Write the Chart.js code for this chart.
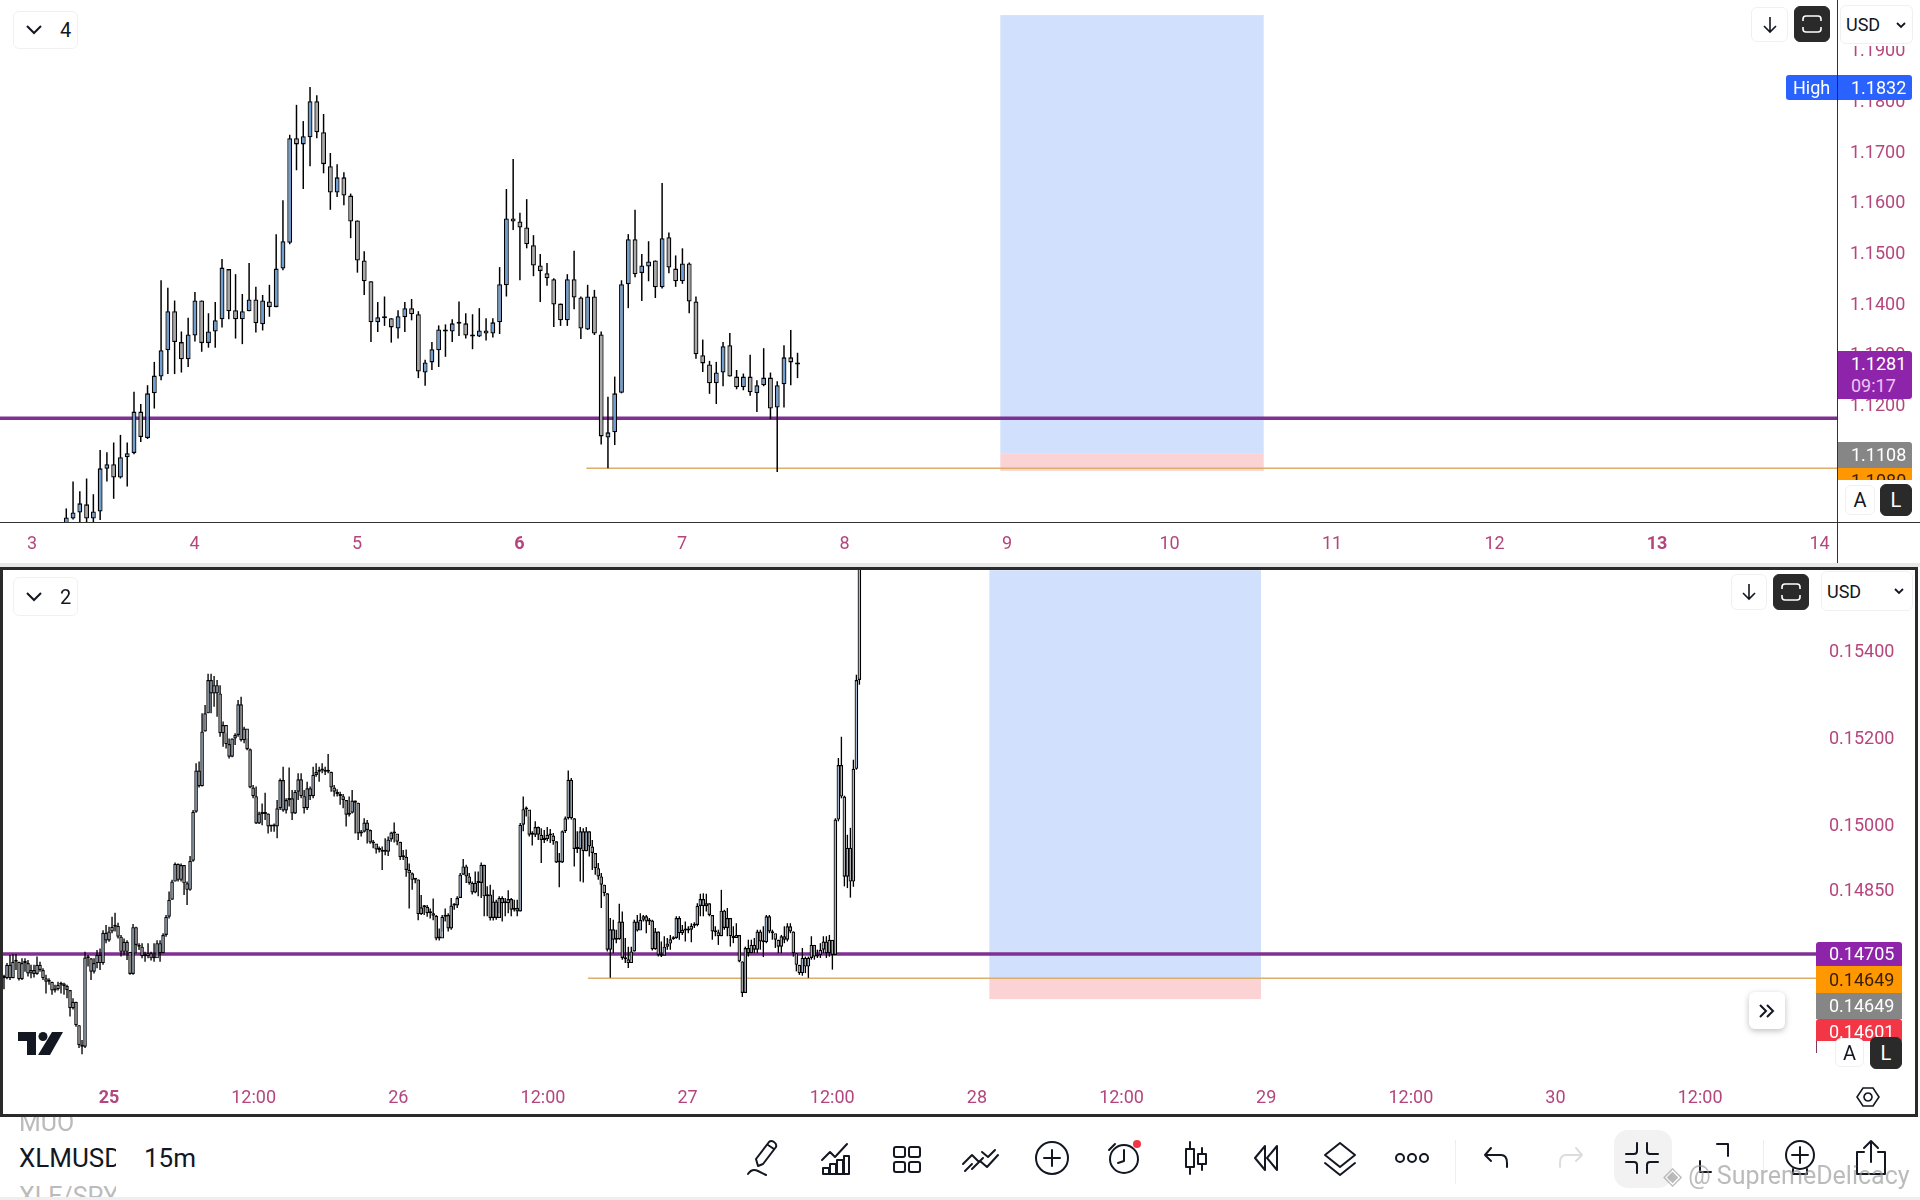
<!DOCTYPE html>
<html>
<head>
<meta charset="utf-8">
<title>XLMUSD 15m</title>
<script src="https://cdn.jsdelivr.net/npm/chart.js@4"></script>
<style>
html, body { margin: 0; padding: 0; background: #fff; }
body { width: 1920px; height: 1200px; position: relative; overflow: hidden; font-family: Roboto, sans-serif; color: #131722; }
canvas { position: absolute; display: block; }
.abs { position: absolute; box-sizing: border-box; }
.btn { position: absolute; box-sizing: border-box; background: #fff; border: 1px solid #f0f0f0; border-radius: 6px; display: flex; align-items: center; justify-content: center; font-size: 20px; }
.btn.dark { background: #2a2a2a; border-color: #2a2a2a; color: #fff; }
.tag { position: absolute; box-sizing: border-box; color: #fff; font-size: 18px; line-height: 26px; overflow: hidden; white-space: nowrap; }
.ico { position: absolute; top: 1138px; width: 40px; height: 40px; fill: none; stroke: #131722; stroke-width: 2; stroke-linecap: round; stroke-linejoin: round; }
</style>
</head>
<body>
<canvas id="topChart" width="1920" height="566" style="left:0;top:0"></canvas>
<canvas id="botChart" width="1914" height="543" style="left:3px;top:570px"></canvas>

<div class="abs" style="left:0;top:522px;width:1920px;height:1px;background:#333"></div>
<div class="abs" style="left:1837px;top:0;width:1px;height:563px;background:#333"></div>
<div class="abs" style="left:0;top:563px;width:1920px;height:4px;background:#e8e8e8"></div>
<div class="abs" style="left:0;top:567px;width:1918px;height:550px;border:3px solid #2a2a2a"></div>

<!-- panneau du haut -->
<div class="btn" style="left:13px;top:11px;width:65px;height:38px"><svg width="20" height="12" viewBox="0 0 20 12" style="margin-right:16px;margin-left:4px"><path d="M3 2l7 7 7-7" fill="none" stroke="#131722" stroke-width="2"/></svg>4</div>
<div class="btn" style="left:1751px;top:7px;width:37px;height:35px"><svg width="18" height="20" viewBox="0 0 18 20"><path d="M9 2v15M3 11l6 6 6-6" fill="none" stroke="#131722" stroke-width="1.6"/></svg></div>
<div class="btn dark" style="left:1794px;top:6px;width:36px;height:36px"><svg width="22" height="20" viewBox="0 0 22 20"><path d="M2 7V5q0-3 3-3h12q3 0 3 3v2M2 13v2q0 3 3 3h12q3 0 3-3v-2" fill="none" stroke="#fff" stroke-width="1.6"/></svg></div>
<div class="abs" style="left:1838px;top:0;width:82px;height:46px;background:#fff"></div>
<div class="btn" style="left:1840px;top:5px;width:73px;height:39px;justify-content:flex-start;padding-left:5px;font-size:18px">USD<svg width="10" height="8" viewBox="0 0 10 8" style="margin-left:16px"><path d="M1 2l4 4 4-4" fill="none" stroke="#131722" stroke-width="1.8"/></svg></div>
<div class="tag" style="left:1786px;top:75px;width:126px;height:25px;background:#2962ff;border-radius:3px;line-height:25px;padding-left:7px">High<span style="position:absolute;left:65px">1.1832</span></div>
<div class="abs" style="left:1837px;top:75px;width:1px;height:25px;background:#1c2b55"></div>
<div class="tag" style="left:1838px;top:351px;width:74px;height:48px;background:#8e24aa;border-radius:0 3px 3px 0;padding:2px 0 0 13px;line-height:22px">1.1281<br><span style="color:#f0c4f5">09:17</span></div>
<div class="tag" style="left:1838px;top:442px;width:74px;height:26px;background:#868686;border-radius:0 3px 0 0;padding-left:13px;line-height:26px">1.1108</div>
<div class="tag" style="left:1838px;top:468px;width:74px;height:12px;background:#ff9800;color:#3c2000;padding-left:13px;line-height:26px">1.1080</div>
<div class="btn" style="left:1845px;top:485px;width:30px;height:30px">A</div>
<div class="btn dark" style="left:1880px;top:484px;width:32px;height:32px">L</div>

<!-- panneau du bas -->
<div class="btn" style="left:13px;top:577px;width:65px;height:39px"><svg width="20" height="12" viewBox="0 0 20 12" style="margin-right:16px;margin-left:4px"><path d="M3 2l7 7 7-7" fill="none" stroke="#131722" stroke-width="2"/></svg>2</div>
<div class="btn" style="left:1731px;top:574px;width:36px;height:36px"><svg width="18" height="20" viewBox="0 0 18 20"><path d="M9 2v15M3 11l6 6 6-6" fill="none" stroke="#131722" stroke-width="1.6"/></svg></div>
<div class="btn dark" style="left:1773px;top:574px;width:36px;height:36px"><svg width="22" height="20" viewBox="0 0 22 20"><path d="M2 7V5q0-3 3-3h12q3 0 3 3v2M2 13v2q0 3 3 3h12q3 0 3-3v-2" fill="none" stroke="#fff" stroke-width="1.6"/></svg></div>
<div class="btn" style="left:1821px;top:571px;width:92px;height:40px;justify-content:flex-start;padding-left:5px;font-size:18px">USD<svg width="10" height="8" viewBox="0 0 10 8" style="margin-left:33px"><path d="M1 2l4 4 4-4" fill="none" stroke="#131722" stroke-width="1.8"/></svg></div>
<div class="tag" style="left:1816px;top:942px;width:86px;height:24px;background:#8e24aa;border-radius:3px 3px 0 0;padding-left:13px;line-height:24px">0.14705</div>
<div class="tag" style="left:1816px;top:966px;width:86px;height:27px;background:#ff9800;color:#3c2000;padding-left:13px;line-height:27px">0.14649</div>
<div class="tag" style="left:1816px;top:993px;width:86px;height:26px;background:#868686;padding-left:13px;line-height:26px">0.14649</div>
<div class="tag" style="left:1816px;top:1019px;width:86px;height:22px;background:#f23645;border-radius:3px 3px 0 0;padding-left:13px;line-height:26px">0.14601</div>
<div class="abs" style="left:1816px;top:1041px;width:1px;height:12px;background:#7d3a5e"></div>
<div class="btn" style="left:1749px;top:992px;width:36px;height:37px;border:none;box-shadow:0 2px 6px rgba(0,0,0,.25)"><svg width="18" height="16" viewBox="0 0 18 16"><path d="M2 2l6 6-6 6M9 2l6 6-6 6" fill="none" stroke="#131722" stroke-width="2"/></svg></div>
<div class="btn" style="left:1835px;top:1038px;width:29px;height:29px">A</div>
<div class="btn dark" style="left:1870px;top:1037px;width:32px;height:32px">L</div>
<svg class="abs" style="left:1856px;top:1085px" width="24" height="24" viewBox="0 0 24 24"><path d="M7 3h10l6 9-6 9H7L1 12z M12 8a4 4 0 1 0 .01 0z" fill="none" stroke="#131722" stroke-width="1.6"/></svg>
<svg class="abs" style="left:18px;top:1032px" width="46" height="24" viewBox="0 0 46 24"><path d="M0 0h18v23H9V9H0z" fill="#131722"/><circle cx="25" cy="4.5" r="4.5" fill="#131722"/><path d="M34 0h11L32 23H20z" fill="#131722"/></svg>

<!-- barre du bas -->
<div class="abs" style="left:0;top:1117px;width:1920px;height:14px;overflow:hidden;color:#bbb;font-size:25px;line-height:14px;padding-left:19px;"><span style="position:relative;top:-1px">MUO</span></div>
<div class="abs" style="left:19px;top:1143px;width:97px;overflow:hidden;font-size:26px;line-height:31px;white-space:nowrap">XLMUSD</div>
<div class="abs" style="left:144px;top:1143px;font-size:26px;line-height:31px">15m</div>
<div class="abs" style="left:19px;top:1182px;width:97px;height:15px;overflow:hidden;color:#bbb;font-size:25px;line-height:30px;white-space:nowrap">XLE/SPY</div>
<div class="abs" style="left:0;top:1197px;width:1920px;height:3px;background:#eee"></div>
<div class="abs" style="left:1614px;top:1130px;width:58px;height:58px;background:#f2f2f2;border-radius:14px"></div>
<div class="abs" style="left:1455px;top:1140px;width:1px;height:44px;background:#eee"></div>
<div class="abs" style="left:1763px;top:1140px;width:1px;height:44px;background:#eee"></div>

<svg class="ico" style="left:744px" viewBox="0 0 40 40"><path d="M14 28l-2-7 13-17q2-2 5 0t2 5L19 26zM24 7l6 4M4 36q4-6 10-3t8 4"/></svg>
<svg class="ico" style="left:816px" viewBox="0 0 40 40"><path d="M6 22l8-8 5 5 12-13M7 36v-6h6v6zM14 36V26h6v10zM21 36V22h6v14zM28 36V18h5v18z"/></svg>
<svg class="ico" style="left:887px" viewBox="0 0 40 40"><rect x="7" y="9" width="11" height="10" rx="2"/><rect x="22" y="9" width="11" height="10" rx="2"/><rect x="7" y="24" width="11" height="10" rx="2"/><rect x="22" y="24" width="11" height="10" rx="2"/></svg>
<svg class="ico" style="left:960px" viewBox="0 0 40 40"><path d="M3 26l9-9 7 7 4-4M12 31l8-8 7 6 11-12M22 14l6 5 7-7M5 33l7-7"/></svg>
<svg class="ico" style="left:1032px" viewBox="0 0 40 40"><circle cx="20" cy="20" r="16"/><path d="M20 12v16M12 20h16"/></svg>
<svg class="ico" style="left:1104px" viewBox="0 0 40 40"><circle cx="20" cy="21" r="14"/><path d="M20 12v11l-6 2M5 12l6-6"/><circle cx="33" cy="6" r="4" fill="#f23645" stroke="none"/></svg>
<svg class="ico" style="left:1176px" viewBox="0 0 40 40"><path d="M14 4v32M26 10v22"/><rect x="10" y="11" width="8" height="18" fill="#fff"/><rect x="22" y="16" width="8" height="10" fill="#fff"/></svg>
<svg class="ico" style="left:1247px" viewBox="0 0 40 40"><path d="M18 8L8 20l10 12zM30 8L20 20l10 12z"/></svg>
<svg class="ico" style="left:1320px" viewBox="0 0 40 40"><path d="M20 5l15 12-15 12L5 17zM5 25l15 12 15-12"/></svg>
<svg class="ico" style="left:1392px" viewBox="0 0 40 40"><circle cx="8" cy="20" r="4"/><circle cx="20" cy="20" r="4"/><circle cx="32" cy="20" r="4"/></svg>
<svg class="ico" style="left:1477px" viewBox="0 0 40 40"><path d="M14 10l-6 7 6 6M8 17h16q6 0 6 8v4"/></svg>
<svg class="ico" style="left:1550px;stroke:#ddd" viewBox="0 0 40 40"><path d="M26 10l6 7-6 6M32 17H16q-6 0-6 8v4"/></svg>
<svg class="ico" style="left:1622px" viewBox="0 0 40 40"><path d="M15 5v8q0 3-3 3H4M25 5v8q0 3 3 3h8M15 35v-8q0-3-3-3H4M25 35v-8q0-3 3-3h8"/></svg>
<svg class="ico" style="left:1694px" viewBox="0 0 40 40"><path d="M23 6h11v12M6 23v11h11"/></svg>
<svg class="ico" style="left:1780px" viewBox="0 0 40 40"><circle cx="20" cy="17" r="14"/><path d="M20 9v16M12 17h16M13 31v5h14v-5"/></svg>
<svg class="ico" style="left:1851px" viewBox="0 0 40 40"><path d="M13 14H6v22h28V14h-7M20 24V3M13 10l7-7 7 7"/></svg>
<div class="abs" style="left:1663px;top:1160px;font-size:25px;line-height:32px;color:rgba(150,150,150,.65);white-space:nowrap">◈ @ SupremeDelicacy</div>

<script>
// ─── DATOS PANEL SUPERIOR (velas 1h) ──────────────────────────
const topDayTicks = [3, 4, 5, 6, 7, 8, 9, 10, 11, 12, 13, 14];
const topBoldDays = [6, 13];
const topPriceTicks = [1.19, 1.18, 1.17, 1.16, 1.15, 1.14, 1.13, 1.12];
const topFirstCandleDay = 3.211;

const topOpen = [
    1.0966,1.0979,1.0991,1.1007,1.0979,1.0993,1.1077,1.1086,1.1060,1.1100,
    1.1108,1.1190,1.1138,1.1226,1.1259,1.1311,1.1388,1.1327,1.1293,1.1340,
    1.1409,1.1325,1.1348,1.1372,1.1471,1.1390,1.1372,1.1388,1.1411,1.1362,
    1.1407,1.1396,1.1472,1.1523,1.1729,1.1717,1.1731,1.1802,1.1741,1.1674,
    1.1622,1.1652,1.1616,1.1567,1.1488,1.1447,1.1366,1.1376,1.1374,1.1354,
    1.1376,1.1394,1.1382,1.1267,1.1287,1.1311,1.1350,1.1348,1.1364,1.1364,
    1.1340,1.1338,1.1350,1.1344,1.1366,1.1439,1.1571,1.1565,1.1553,1.1518,
    1.1478,1.1463,1.1451,1.1403,1.1370,1.1451,1.1415,1.1352,1.1417,1.1342,
    1.1139,1.1149,1.1227,1.1441,1.1530,1.1463,1.1476,1.1488,1.1435,1.1534,
    1.1472,1.1447,1.1482,1.1407,1.1301,1.1283,1.1246,1.1267,1.1321,1.1259,
    1.1238,1.1259,1.1226,1.1242,1.1257,1.1198,1.1244,1.1297,1.1287
];
const topClose = [
    1.0981,1.0991,1.1009,1.0979,1.0993,1.1078,1.1086,1.1060,1.1100,1.1108,
    1.1190,1.1140,1.1226,1.1261,1.1311,1.1388,1.1327,1.1293,1.1342,1.1409,
    1.1325,1.1348,1.1370,1.1474,1.1388,1.1372,1.1388,1.1411,1.1364,1.1409,
    1.1396,1.1472,1.1526,1.1729,1.1717,1.1733,1.1802,1.1741,1.1678,1.1622,
    1.1652,1.1616,1.1565,1.1488,1.1447,1.1366,1.1376,1.1374,1.1356,1.1378,
    1.1394,1.1382,1.1269,1.1287,1.1313,1.1352,1.1348,1.1364,1.1363,1.1340,
    1.1338,1.1350,1.1344,1.1366,1.1441,1.1571,1.1565,1.1553,1.1520,1.1478,
    1.1467,1.1453,1.1401,1.1370,1.1451,1.1415,1.1354,1.1417,1.1344,1.1141,
    1.1149,1.1226,1.1441,1.1530,1.1461,1.1478,1.1486,1.1435,1.1532,1.1474,
    1.1447,1.1482,1.1407,1.1303,1.1285,1.1246,1.1267,1.1319,1.1259,1.1238,
    1.1259,1.1228,1.1242,1.1257,1.1196,1.1242,1.1297,1.1287,1.1283
];
const topHigh = [
    1.0999,1.1052,1.1033,1.1058,1.1027,1.1114,1.1110,1.1129,1.1144,1.1129,
    1.1229,1.1205,1.1242,1.1288,1.1449,1.1434,1.1409,1.1348,1.1375,1.1426,
    1.1409,1.1384,1.1406,1.1491,1.1471,1.1461,1.1422,1.1483,1.1436,1.1420,
    1.1440,1.1540,1.1607,1.1736,1.1795,1.1763,1.1830,1.1814,1.1777,1.1700,
    1.1678,1.1662,1.1620,1.1567,1.1506,1.1447,1.1406,1.1417,1.1374,1.1390,
    1.1406,1.1412,1.1388,1.1292,1.1327,1.1360,1.1362,1.1372,1.1407,1.1384,
    1.1382,1.1394,1.1374,1.1374,1.1475,1.1629,1.1688,1.1582,1.1609,1.1538,
    1.1501,1.1483,1.1453,1.1403,1.1461,1.1507,1.1417,1.1440,1.1430,1.1348,
    1.1219,1.1259,1.1449,1.1540,1.1588,1.1501,1.1526,1.1488,1.1641,1.1543,
    1.1498,1.1512,1.1484,1.1417,1.1332,1.1290,1.1288,1.1327,1.1345,1.1272,
    1.1265,1.1302,1.1252,1.1315,1.1267,1.1250,1.1321,1.1351,1.1306
];
const topLow = [
    1.0963,1.0977,1.0969,1.0969,1.0969,1.0976,1.1052,1.1018,1.1058,1.1042,
    1.1106,1.1130,1.1136,1.1196,1.1252,1.1264,1.1264,1.1267,1.1278,1.1328,
    1.1308,1.1316,1.1316,1.1356,1.1372,1.1334,1.1323,1.1388,1.1346,1.1350,
    1.1377,1.1396,1.1469,1.1520,1.1666,1.1629,1.1674,1.1729,1.1660,1.1588,
    1.1613,1.1597,1.1532,1.1464,1.1420,1.1327,1.1347,1.1359,1.1326,1.1334,
    1.1347,1.1370,1.1256,1.1241,1.1272,1.1278,1.1298,1.1327,1.1339,1.1334,
    1.1313,1.1337,1.1330,1.1336,1.1343,1.1417,1.1548,1.1449,1.1512,1.1457,
    1.1406,1.1438,1.1357,1.1359,1.1359,1.1392,1.1333,1.1351,1.1341,1.1125,
    1.1078,1.1124,1.1226,1.1394,1.1455,1.1408,1.1447,1.1414,1.1433,1.1463,
    1.1436,1.1442,1.1384,1.1294,1.1268,1.1225,1.1205,1.1240,1.1259,1.1234,
    1.1232,1.1221,1.1189,1.1240,1.1175,1.1071,1.1198,1.1242,1.1256
];
const topPurpleLine = 1.1177;
const topGoldLine = 1.1078;
const topGoldStartDay = 6.412;
const topZoneDays = [8.959, 10.58];
const topZonePrices = [1.1972, 1.1108, 1.1073];

// ─── DATOS PANEL INFERIOR (velas 15m) ─────────────────────────
const botDayTicks = [25, 25.5, 26, 26.5, 27, 27.5, 28, 28.5, 29, 29.5, 30, 30.5];
const botBoldDays = [25];
const botPriceTicks = [0.154, 0.152, 0.15, 0.1485];
const botFirstCandleDay = 24.637;
const botFirstOpen = 0.14655;

const botClose = [
    0.14649,0.14680,0.14649,0.14687,0.14687,0.14647,0.14684,0.14684,0.14660,0.14668,
    0.14659,0.14680,0.14668,0.14649,0.14641,0.14641,0.14621,0.14624,0.14634,0.14637,
    0.14631,0.14622,0.14580,0.14595,0.14541,0.14495,0.14491,0.14697,0.14695,0.14664,
    0.14684,0.14703,0.14684,0.14754,0.14736,0.14757,0.14768,0.14770,0.14745,0.14710,
    0.14733,0.14710,0.14659,0.14767,0.14726,0.14722,0.14700,0.14700,0.14707,0.14695,
    0.14695,0.14730,0.14707,0.14749,0.14791,0.14830,0.14872,0.14913,0.14876,0.14910,
    0.14868,0.14853,0.14920,0.15033,0.15128,0.15092,0.15218,0.15260,0.15337,0.15306,
    0.15325,0.15306,0.15214,0.15233,0.15189,0.15160,0.15202,0.15210,0.15281,0.15198,
    0.15225,0.15177,0.15089,0.15069,0.15006,0.15029,0.15028,0.15029,0.14999,0.14999,
    0.14999,0.15041,0.15106,0.15036,0.15060,0.15064,0.15029,0.15079,0.15108,0.15069,
    0.15041,0.15087,0.15069,0.15118,0.15125,0.15129,0.15128,0.15125,0.15125,0.15089,
    0.15079,0.15074,0.15069,0.15060,0.15026,0.15031,0.15059,0.15054,0.14983,0.14987,
    0.15008,0.14991,0.14962,0.14960,0.14946,0.14945,0.14941,0.14941,0.14969,0.14985,
    0.14983,0.14964,0.14928,0.14929,0.14899,0.14891,0.14876,0.14877,0.14797,0.14813,
    0.14814,0.14799,0.14799,0.14793,0.14741,0.14741,0.14791,0.14795,0.14764,0.14817,
    0.14817,0.14834,0.14888,0.14907,0.14884,0.14869,0.14847,0.14869,0.14869,0.14911,
    0.14838,0.14842,0.14788,0.14826,0.14788,0.14834,0.14822,0.14822,0.14832,0.14807,
    0.14811,0.14803,0.15003,0.15039,0.15038,0.14980,0.14980,0.14998,0.14980,0.14968,
    0.14970,0.14980,0.14978,0.14965,0.14916,0.14916,0.14988,0.15018,0.15107,0.15018,
    0.14947,0.14947,0.14988,0.14942,0.14988,0.14953,0.14938,0.14903,0.14884,0.14865,
    0.14845,0.14715,0.14762,0.14738,0.14739,0.14780,0.14696,0.14693,0.14684,0.14711,
    0.14780,0.14759,0.14784,0.14792,0.14780,0.14782,0.14716,0.14757,0.14703,0.14701,
    0.14722,0.14729,0.14739,0.14742,0.14788,0.14753,0.14761,0.14759,0.14761,0.14770,
    0.14772,0.14816,0.14832,0.14815,0.14822,0.14795,0.14757,0.14755,0.14746,0.14805,
    0.14765,0.14788,0.14746,0.14742,0.14749,0.14688,0.14615,0.14719,0.14707,0.14726,
    0.14715,0.14757,0.14734,0.14732,0.14792,0.14757,0.14753,0.14738,0.14722,0.14746,
    0.14738,0.14769,0.14757,0.14707,0.14680,0.14661,0.14696,0.14676,0.14696,0.14726,
    0.14699,0.14703,0.14715,0.14734,0.14707,0.14738,0.14703,0.15015,0.15141,0.15068,
    0.14883,0.14950,0.14872,0.15132,0.15337,0.15596
];
const botHigh = [
    0.14657,0.14684,0.14703,0.14705,0.14705,0.14687,0.14695,0.14695,0.14691,0.14680,
    0.14680,0.14699,0.14687,0.14672,0.14657,0.14649,0.14641,0.14634,0.14641,0.14641,
    0.14639,0.14634,0.14622,0.14603,0.14595,0.14541,0.14507,0.14710,0.14703,0.14695,
    0.14695,0.14714,0.14718,0.14760,0.14772,0.14768,0.14791,0.14800,0.14777,0.14749,
    0.14741,0.14737,0.14703,0.14774,0.14768,0.14730,0.14730,0.14710,0.14730,0.14710,
    0.14730,0.14737,0.14737,0.14753,0.14795,0.14849,0.14876,0.14916,0.14914,0.14914,
    0.14910,0.14872,0.14931,0.15037,0.15145,0.15149,0.15260,0.15279,0.15351,0.15351,
    0.15346,0.15337,0.15325,0.15241,0.15214,0.15202,0.15202,0.15214,0.15291,0.15298,
    0.15229,0.15202,0.15179,0.15095,0.15091,0.15033,0.15052,0.15077,0.15029,0.15002,
    0.15006,0.15060,0.15110,0.15137,0.15064,0.15135,0.15083,0.15083,0.15122,0.15122,
    0.15083,0.15102,0.15091,0.15137,0.15145,0.15137,0.15145,0.15137,0.15166,0.15125,
    0.15095,0.15085,0.15079,0.15074,0.15060,0.15068,0.15083,0.15059,0.15054,0.14991,
    0.15018,0.15014,0.14992,0.14968,0.14956,0.14953,0.14953,0.14972,0.14976,0.14987,
    0.15008,0.14979,0.14964,0.14945,0.14946,0.14914,0.14893,0.14880,0.14877,0.14841,
    0.14818,0.14818,0.14810,0.14833,0.14795,0.14764,0.14795,0.14810,0.14799,0.14834,
    0.14822,0.14838,0.14892,0.14924,0.14911,0.14892,0.14872,0.14895,0.14895,0.14916,
    0.14911,0.14861,0.14865,0.14853,0.14830,0.14838,0.14838,0.14834,0.14852,0.14834,
    0.14830,0.14830,0.15007,0.15068,0.15045,0.15022,0.14988,0.15011,0.14999,0.14995,
    0.14991,0.14998,0.14993,0.14984,0.14965,0.14938,0.14990,0.15022,0.15128,0.15111,
    0.15018,0.14988,0.14998,0.14995,0.14998,0.14988,0.14968,0.14938,0.14915,0.14892,
    0.14865,0.14845,0.14788,0.14784,0.14761,0.14821,0.14803,0.14742,0.14722,0.14722,
    0.14784,0.14795,0.14799,0.14795,0.14795,0.14788,0.14784,0.14765,0.14757,0.14734,
    0.14746,0.14742,0.14749,0.14746,0.14792,0.14792,0.14772,0.14780,0.14769,0.14776,
    0.14778,0.14822,0.14844,0.14845,0.14844,0.14822,0.14795,0.14769,0.14761,0.14853,
    0.14807,0.14811,0.14788,0.14769,0.14776,0.14749,0.14688,0.14722,0.14738,0.14738,
    0.14742,0.14761,0.14761,0.14769,0.14795,0.14795,0.14761,0.14746,0.14738,0.14749,
    0.14769,0.14776,0.14776,0.14757,0.14707,0.14680,0.14719,0.14699,0.14699,0.14746,
    0.14726,0.14715,0.14730,0.14746,0.14746,0.14749,0.14715,0.15018,0.15157,0.15206,
    0.15070,0.14980,0.14996,0.15153,0.15349,0.15660
];
const botLow = [
    0.14624,0.14647,0.14645,0.14649,0.14668,0.14644,0.14645,0.14664,0.14653,0.14649,
    0.14651,0.14657,0.14664,0.14645,0.14614,0.14634,0.14611,0.14616,0.14621,0.14614,
    0.14611,0.14603,0.14561,0.14577,0.14537,0.14488,0.14474,0.14488,0.14676,0.14645,
    0.14660,0.14672,0.14668,0.14680,0.14730,0.14733,0.14753,0.14757,0.14741,0.14699,
    0.14703,0.14691,0.14657,0.14657,0.14707,0.14714,0.14695,0.14687,0.14695,0.14690,
    0.14687,0.14703,0.14687,0.14707,0.14745,0.14787,0.14830,0.14872,0.14872,0.14872,
    0.14841,0.14818,0.14851,0.14918,0.15031,0.15089,0.15091,0.15218,0.15260,0.15260,
    0.15275,0.15252,0.15206,0.15183,0.15179,0.15156,0.15159,0.15187,0.15206,0.15195,
    0.15191,0.15175,0.15087,0.15064,0.15005,0.15005,0.15002,0.15014,0.14983,0.14987,
    0.14987,0.14972,0.15037,0.15033,0.15029,0.15045,0.15014,0.15028,0.15060,0.15064,
    0.15029,0.15037,0.15060,0.15064,0.15114,0.15102,0.15122,0.15118,0.15122,0.15079,
    0.15068,0.15068,0.15049,0.15041,0.14999,0.15022,0.15029,0.14983,0.14968,0.14976,
    0.14985,0.14960,0.14959,0.14949,0.14937,0.14939,0.14899,0.14933,0.14931,0.14964,
    0.14962,0.14956,0.14922,0.14922,0.14883,0.14810,0.14853,0.14868,0.14783,0.14795,
    0.14795,0.14791,0.14787,0.14783,0.14737,0.14736,0.14757,0.14780,0.14757,0.14761,
    0.14807,0.14811,0.14834,0.14888,0.14869,0.14865,0.14842,0.14845,0.14838,0.14834,
    0.14792,0.14792,0.14782,0.14782,0.14784,0.14799,0.14780,0.14792,0.14799,0.14792,
    0.14803,0.14792,0.14803,0.14988,0.15022,0.14976,0.14955,0.14975,0.14968,0.14915,
    0.14961,0.14965,0.14961,0.14957,0.14915,0.14859,0.14915,0.14984,0.15015,0.15015,
    0.14907,0.14938,0.14872,0.14870,0.14942,0.14930,0.14899,0.14888,0.14876,0.14811,
    0.14838,0.14711,0.14650,0.14707,0.14730,0.14738,0.14692,0.14684,0.14673,0.14692,
    0.14711,0.14757,0.14761,0.14780,0.14753,0.14772,0.14713,0.14715,0.14699,0.14698,
    0.14707,0.14715,0.14715,0.14738,0.14740,0.14738,0.14749,0.14734,0.14753,0.14732,
    0.14765,0.14769,0.14792,0.14792,0.14803,0.14792,0.14738,0.14746,0.14726,0.14746,
    0.14761,0.14746,0.14722,0.14730,0.14746,0.14686,0.14606,0.14615,0.14699,0.14707,
    0.14707,0.14707,0.14715,0.14698,0.14730,0.14753,0.14738,0.14719,0.14707,0.14707,
    0.14730,0.14734,0.14753,0.14699,0.14665,0.14657,0.14655,0.14661,0.14650,0.14692,
    0.14692,0.14696,0.14696,0.14707,0.14696,0.14699,0.14669,0.14703,0.15011,0.15064,
    0.14861,0.14857,0.14835,0.14860,0.15130,0.15326
];
const botOpen = botClose.map((c, i) => i ? botClose[i - 1] : botFirstOpen);
const botPurpleLine = 0.14705;
const botGoldLine = 0.14649;
const botGoldStartDay = 26.656;
const botZoneDays = [28.043, 28.982];
const botZonePrices = [0.1559, 0.14649, 0.14601];

// ─── HELPERS ───────────────────────────────────────────────────
const TICK_COLOR = '#b5467d';

function zonePlugin(days, prices) {
    return {
        id: 'zone',
        beforeDatasetsDraw(chart) {
            const { ctx, scales: { x, y } } = chart;
            const x0 = x.getPixelForValue(days[0]);
            const x1 = x.getPixelForValue(days[1]);
            const yTop = y.getPixelForValue(prices[0]);
            const yMid = y.getPixelForValue(prices[1]);
            const yBot = y.getPixelForValue(prices[2]);
            ctx.save();
            ctx.fillStyle = '#d1e0fc';
            ctx.fillRect(x0, yTop, x1 - x0, yMid - yTop);
            ctx.fillStyle = '#fbd3d4';
            ctx.fillRect(x0, yMid, x1 - x0, yBot - yMid);
            ctx.restore();
        }
    };
}

// sin los márgenes automáticos de Chart.js el área del gráfico llega al borde del canvas
function noPadding(s) {
    s.paddingTop = 0;
    s.paddingBottom = 0;
    s.paddingLeft = 0;
    s.paddingRight = 0;
}

function makePane(id, cfg) {
    const times = cfg.open.map((_, i) => cfg.firstDay + i * cfg.step);
    const wicks = times.map((t, i) => ({ x: t, y: [cfg.low[i], cfg.high[i]] }));
    const bodies = times.map((t, i) => ({ x: t, y: [Math.min(cfg.open[i], cfg.close[i]), Math.max(cfg.open[i], cfg.close[i])] }));

    new Chart(document.getElementById(id), {
        type: 'bar',
        data: {
            datasets: [
                {
                    data: bodies,
                    order: 1,
                    grouped: false,
                    categoryPercentage: 1,
                    barPercentage: cfg.bodyRatio,
                    backgroundColor: ctx => cfg.close[ctx.dataIndex] >= cfg.open[ctx.dataIndex] ? cfg.upColor : cfg.downColor,
                    borderColor: '#000',
                    borderWidth: cfg.bodyBorder,
                    borderSkipped: false,
                    minBarLength: 2
                },
                {
                    data: wicks,
                    order: 2,
                    grouped: false,
                    categoryPercentage: 1,
                    barPercentage: cfg.wickRatio,
                    backgroundColor: '#000',
                    borderWidth: 0
                },
                {
                    type: 'line',
                    data: [{ x: cfg.xMin, y: cfg.purple }, { x: cfg.xMax, y: cfg.purple }],
                    order: 3,
                    borderColor: '#7f3191',
                    borderWidth: 3.5,
                    pointRadius: 0
                },
                {
                    type: 'line',
                    data: [{ x: cfg.goldStart, y: cfg.gold }, { x: cfg.xMax, y: cfg.gold }],
                    order: 4,
                    borderColor: '#dcae6a',
                    borderWidth: 1.5,
                    pointRadius: 0
                }
            ]
        },
        plugins: [zonePlugin(cfg.zoneDays, cfg.zonePrices)],
        options: {
            responsive: false,
            animation: false,
            devicePixelRatio: 1,
            layout: { padding: 0, autoPadding: false },
            plugins: { legend: { display: false }, tooltip: { enabled: false } },
            scales: {
                x: {
                    type: 'linear',
                    offset: false,
                    min: cfg.xMin,
                    max: cfg.xMax,
                    grid: { display: false, drawTicks: false },
                    border: { display: false },
                    afterBuildTicks: s => { s.ticks = cfg.xTicks.map(v => ({ value: v })); },
                    afterFit: s => { s.height = cfg.xAxisHeight; noPadding(s); },
                    ticks: {
                        autoSkip: false,
                        maxRotation: 0,
                        padding: cfg.xPadding,
                        color: TICK_COLOR,
                        font: ctx => ({ family: 'Roboto', size: 18, weight: cfg.boldDays.includes(ctx.tick && ctx.tick.value) ? '700' : '400' }),
                        callback: v => Number.isInteger(v) ? String(v) : '12:00'
                    }
                },
                y: {
                    position: 'right',
                    min: cfg.yMin,
                    max: cfg.yMax,
                    grid: { display: false, drawTicks: false },
                    border: { display: false },
                    afterBuildTicks: s => { s.ticks = cfg.yTicks.map(v => ({ value: v })); },
                    afterFit: s => { s.width = cfg.yAxisWidth; noPadding(s); },
                    ticks: {
                        padding: 13,
                        color: TICK_COLOR,
                        font: { family: 'Roboto', size: 18 },
                        callback: v => v.toFixed(cfg.decimals)
                    }
                }
            }
        }
    });
}

// ─── INIT ──────────────────────────────────────────────────────
makePane('topChart', {
    open: topOpen, close: topClose, high: topHigh, low: topLow,
    firstDay: topFirstCandleDay, step: 1 / 24,
    xMin: 2.8031, xMax: 14.1077, yMin: 1.09722, yMax: 1.20018,
    xTicks: topDayTicks, yTicks: topPriceTicks, boldDays: topBoldDays, decimals: 4,
    purple: topPurpleLine, gold: topGoldLine, goldStart: topGoldStartDay,
    zoneDays: topZoneDays, zonePrices: topZonePrices,
    upColor: '#6f9fd2', downColor: '#a8a8a8',
    bodyRatio: 0.72, bodyBorder: 1.3, wickRatio: 0.22,
    xAxisHeight: 44, xPadding: 12, yAxisWidth: 83
});

makePane('botChart', {
    open: botOpen, close: botClose, high: botHigh, low: botLow,
    firstDay: botFirstCandleDay, step: 0.010375,
    xMin: 24.6336, xMax: 30.9005, yMin: 0.144191, yMax: 0.155905,
    xTicks: botDayTicks, yTicks: botPriceTicks, boldDays: botBoldDays, decimals: 5,
    purple: botPurpleLine, gold: botGoldLine, goldStart: botGoldStartDay,
    zoneDays: botZoneDays, zonePrices: botZonePrices,
    upColor: '#a7bad0', downColor: '#b0b0b0',
    bodyRatio: 1.2, bodyBorder: 1.2, wickRatio: 0.45,
    xAxisHeight: 35, xPadding: 10, yAxisWidth: 101
});
</script>
</body>
</html>
